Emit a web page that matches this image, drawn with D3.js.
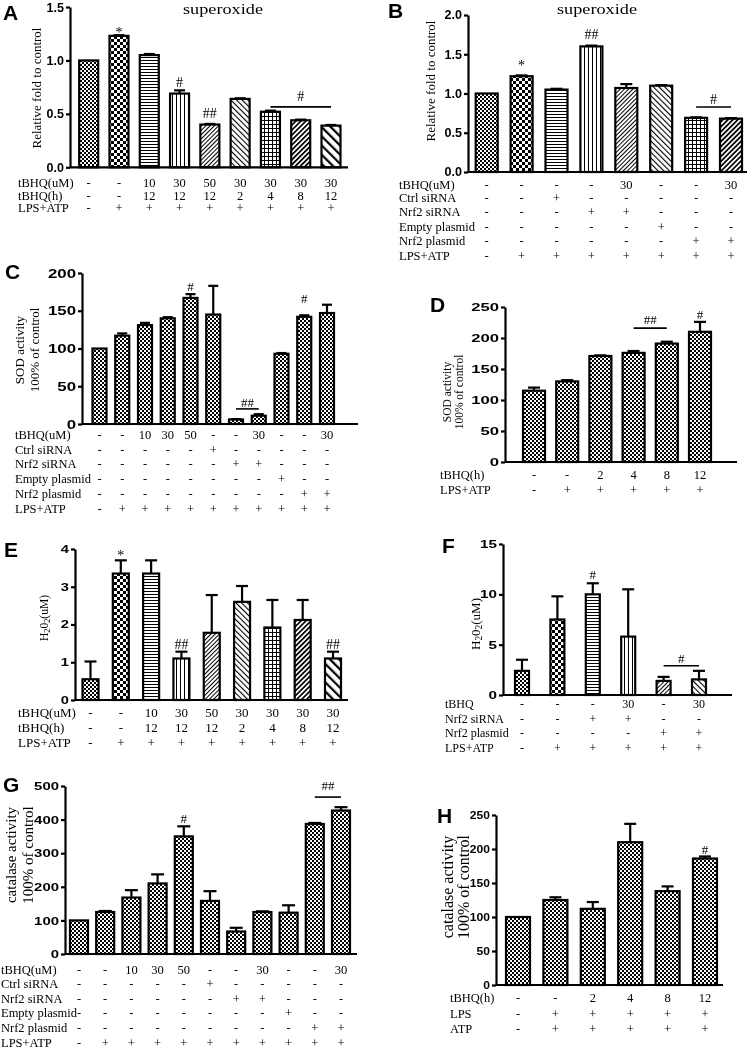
<!DOCTYPE html>
<html><head><meta charset="utf-8">
<script src="https://cdn.jsdelivr.net/npm/d3@7/dist/d3.min.js"></script>
<style>body{margin:0;background:#fff}svg{display:block;will-change:transform}</style>
</head><body>
<svg id="fig" width="750" height="1049"></svg>
<script>
// ---------------- DATA ----------------
// Panel A: superoxide, tBHQ dose/time
const aValues = [1.0, 1.23, 1.05, 0.69, 0.40, 0.64, 0.52, 0.44, 0.39];
const aErrors = [0, 0.006, 0.01, 0.03, 0.006, 0.006, 0.01, 0.006, 0.006];
const aTicks = [0, 0.5, 1.0, 1.5];
const aTbhqUM = ["-", "-", "10", "30", "50", "30", "30", "30", "30"];
const aTbhqH = ["-", "-", "12", "12", "12", "2", "4", "8", "12"];
const aLpsAtp = ["-", "+", "+", "+", "+", "+", "+", "+", "+"];
const aPatterns = ["dots", "checker", "hlines", "vlines", "fwd", "back", "grid", "fwdBold", "backWide"];
const aSig = [{from:1,to:1,text:"*",level:1.215},{from:3,to:3,text:"#",level:0.753},{from:4,to:4,text:"##",level:0.462},{from:6,to:8,text:"#",level:0.565}];

// Panel B: superoxide, Nrf2 manipulation
const bValues = [1.0, 1.22, 1.05, 1.60, 1.07, 1.10, 0.69, 0.68];
const bErrors = [0, 0.01, 0.01, 0.01, 0.05, 0.006, 0.006, 0.006];
const bTicks = [0, 0.5, 1.0, 1.5, 2.0];
const bTbhq = ["-", "-", "-", "-", "30", "-", "-", "30"];
const bCtrlSi = ["-", "-", "+", "-", "-", "-", "-", "-"];
const bNrf2Si = ["-", "-", "-", "+", "+", "-", "-", "-"];
const bEmptyPl = ["-", "-", "-", "-", "-", "+", "-", "-"];
const bNrf2Pl = ["-", "-", "-", "-", "-", "-", "+", "+"];
const bLpsAtp = ["-", "+", "+", "+", "+", "+", "+", "+"];
const bPatterns = ["dots", "checker", "hlines", "vlines", "fwd", "back", "grid", "fwdBold"];
const bSig = [{from:1,to:1,text:"*",level:1.30},{from:3,to:3,text:"##",level:1.694},{from:6,to:7,text:"#",level:0.828}];

// Panel C: SOD activity
const cValues = [100, 117, 131, 140, 167, 145, 6, 11, 93, 142, 147];
const cErrors = [0, 3, 3, 1.5, 5, 38, 0.5, 2, 1, 2, 11];
const cTicks = [0, 50, 100, 150, 200];
const cTbhq = ["-", "-", "10", "30", "50", "-", "-", "30", "-", "-", "30"];
const cCtrlSi = ["-", "-", "-", "-", "-", "+", "-", "-", "-", "-", "-"];
const cNrf2Si = ["-", "-", "-", "-", "-", "-", "+", "+", "-", "-", "-"];
const cEmptyPl = ["-", "-", "-", "-", "-", "-", "-", "-", "+", "-", "-"];
const cNrf2Pl = ["-", "-", "-", "-", "-", "-", "-", "-", "-", "+", "+"];
const cLpsAtp = ["-", "+", "+", "+", "+", "+", "+", "+", "+", "+", "+"];
const cSig = [{from:4,to:4,text:"#",level:176},{from:9,to:9,text:"#",level:160},{from:6,to:7,text:"##",level:20}];

// Panel D: SOD activity, time
const dValues = [115, 130, 171, 176, 191, 210];
const dErrors = [5, 2, 1, 3, 3, 16];
const dTicks = [0, 50, 100, 150, 200, 250];
const dTbhqH = ["-", "-", "2", "4", "8", "12"];
const dLpsAtp = ["-", "+", "+", "+", "+", "+"];
const dSig = [{from:5,to:5,text:"#",level:231},{from:3,to:4,text:"##",level:216}];

// Panel E: H2O2, tBHQ dose/time
const eValues = [0.55, 3.35, 3.35, 1.10, 1.78, 2.60, 1.92, 2.12, 1.10];
const eErrors = [0.47, 0.35, 0.35, 0.18, 1.0, 0.42, 0.73, 0.53, 0.18];
const eTicks = [0, 1, 2, 3, 4];
const eTbhqUM = ["-", "-", "10", "30", "50", "30", "30", "30", "30"];
const eTbhqH = ["-", "-", "12", "12", "12", "2", "4", "8", "12"];
const eLpsAtp = ["-", "+", "+", "+", "+", "+", "+", "+", "+"];
const eSig = [{from:1,to:1,text:"*",level:3.70},{from:3,to:3,text:"##",level:1.35},{from:8,to:8,text:"##",level:1.35}];

// Panel F: H2O2, Nrf2
const fValues = [2.4, 7.5, 10.0, 5.8, 1.4, 1.55];
const fErrors = [1.1, 2.3, 1.1, 4.7, 0.4, 0.85];
const fTicks = [0, 5, 10, 15];
const fTbhq = ["-", "-", "-", "30", "-", "30"];
const fNrf2Si = ["-", "-", "+", "+", "-", "-"];
const fNrf2Pl = ["-", "-", "-", "-", "+", "+"];
const fLpsAtp = ["-", "+", "+", "+", "+", "+"];
const fPatterns = ["dots", "checker", "hlines", "vlines", "fwd", "back"];
const fSig = [{from:2,to:2,text:"#",level:11.5},{from:4,to:5,text:"#",level:2.9}];

// Panel G: catalase activity
const gValues = [100, 125, 168, 210, 350, 158, 67, 125, 123, 387, 427];
const gErrors = [0, 3, 22, 27, 30, 29, 11, 2, 22, 3, 10];
const gTicks = [0, 100, 200, 300, 400, 500];
const gTbhq = ["-", "-", "10", "30", "50", "-", "-", "30", "-", "-", "30"];
const gCtrlSi = ["-", "-", "-", "-", "-", "+", "-", "-", "-", "-", "-"];
const gNrf2Si = ["-", "-", "-", "-", "-", "-", "+", "+", "-", "-", "-"];
const gEmptyPl = ["-", "-", "-", "-", "-", "-", "-", "-", "+", "-", "-"];
const gNrf2Pl = ["-", "-", "-", "-", "-", "-", "-", "-", "-", "+", "+"];
const gLpsAtp = ["-", "+", "+", "+", "+", "+", "+", "+", "+", "+", "+"];
const gSig = [{from:4,to:4,text:"#",level:390},{from:9,to:10,text:"##",level:467}];

// Panel H: catalase activity, time
const hValues = [100, 125, 112, 210, 138, 186];
const hErrors = [0, 4, 10, 27, 7, 3];
const hTicks = [0, 50, 100, 150, 200, 250];
const hTbhqH = ["-", "-", "2", "4", "8", "12"];
const hLps = ["-", "+", "+", "+", "+", "+"];
const hAtp = ["-", "+", "+", "+", "+", "+"];
const hSig = [{from:5,to:5,text:"#",level:193}];

// ---------------- DRAWING ----------------
const SERIF = "'Liberation Serif','Times New Roman',serif";
const SANS = "'Liberation Sans',Arial,sans-serif";
const svg = d3.select("#fig");
svg.append("rect").attr("width",750).attr("height",1049).attr("fill","#fff");
const defs = svg.append("defs");

function addPattern(id, w, rot, shapes) {
  const p = defs.append("pattern").attr("id", id).attr("patternUnits", "userSpaceOnUse")
    .attr("width", w).attr("height", w);
  if (rot) p.attr("patternTransform", `rotate(${rot})`);
  p.append("rect").attr("width", w).attr("height", w).attr("fill", "#fff");
  shapes.forEach(s => p.append("rect").attr("x", s[0]).attr("y", s[1]).attr("width", s[2]).attr("height", s[3]).attr("fill", "#000"));
}
addPattern("dots", 4, 0, [[0,0,2,2],[2,2,2,2]]);
addPattern("checker", 6, 0, [[0,0,3,3],[3,3,3,3]]);
addPattern("hlines", 3, 0, [[0,0,3,1]]);
addPattern("vlines", 4, 0, [[0,0,1,4]]);
addPattern("fwd", 3, 45, [[0,0,1,3]]);
addPattern("back", 4, -45, [[0,0,1.1,4]]);
addPattern("grid", 4, 0, [[0,0,4,1],[0,0,1,4]]);
addPattern("fwdBold", 3.5, 45, [[0,0,1.7,3.5]]);
addPattern("backWide", 6.5, -45, [[0,0,2.2,6.5]]);

function drawLabelText(sel, str) {
  // renders "₂" as a small lowered digit
  const parts = str.split(/(₂)/).filter(s => s.length);
  let lastSub = false;
  parts.forEach(p => {
    if (p === "₂") {
      sel.append("tspan").attr("font-size", "0.72em").attr("dy", 2).text("2");
      lastSub = true;
    } else {
      sel.append("tspan").attr("dy", lastSub ? -2 : 0).text(p);
      lastSub = false;
    }
  });
}

function drawPanel(p) {
  const L = p.L;
  const g = svg.append("g");
  const n = p.values.length;
  const x = d3.scalePoint().domain(d3.range(n)).range([L.c0, L.c1]);
  const y = d3.scaleLinear().domain([0, p.ticks[p.ticks.length - 1]]).range([L.yBot, L.yTop]);

  // bars
  g.selectAll("rect.bar").data(p.values).join("rect").attr("class", "bar")
    .attr("x", (d, i) => x(i) - L.barW / 2 + 1).attr("width", L.barW - 2)
    .attr("y", d => y(d)).attr("height", d => L.yBot - y(d))
    .attr("fill", (d, i) => `url(#${p.patterns ? p.patterns[i] : "dots"})`)
    .attr("stroke", "#000").attr("stroke-width", 2.2);

  // error bars
  const eb = p.values.map((v, i) => ({i, v, e: p.errors[i]})).filter(d => d.e > 0);
  g.selectAll("line.err").data(eb).join("line").attr("class", "err")
    .attr("x1", d => x(d.i)).attr("x2", d => x(d.i))
    .attr("y1", d => y(d.v)).attr("y2", d => y(d.v + d.e))
    .attr("stroke", "#000").attr("stroke-width", 2.2);
  g.selectAll("line.cap").data(eb).join("line").attr("class", "cap")
    .attr("x1", d => x(d.i) - L.capW / 2).attr("x2", d => x(d.i) + L.capW / 2)
    .attr("y1", d => y(d.v + d.e)).attr("y2", d => y(d.v + d.e))
    .attr("stroke", "#000").attr("stroke-width", 2.2);

  // y axis
  const ax = g.append("g").attr("transform", `translate(${L.x0},0)`)
    .call(d3.axisLeft(y).tickValues(p.ticks).tickSize(4).tickSizeOuter(0).tickPadding(2)
      .tickFormat(d3.format(L.fmt)));
  ax.select(".domain").attr("stroke", "#000").attr("stroke-width", 2.2);
  ax.selectAll(".tick line").attr("stroke", "#000").attr("stroke-width", 2.2);
  ax.selectAll(".tick text").attr("font-family", SANS).attr("font-weight", "bold")
    .attr("font-size", L.tickFont).attr("fill", "#000")
    .attr("x", -6 / L.sx).attr("transform", `scale(${L.sx},1)`);
  // x axis line
  g.append("line").attr("x1", L.x0).attr("x2", L.x1).attr("y1", L.yBot).attr("y2", L.yBot)
    .attr("stroke", "#000").attr("stroke-width", 2.2);

  // significance marks
  p.sig.forEach(s => {
    if (s.from === s.to) {
      g.append("text").attr("x", x(s.from)).attr("y", y(s.level)).attr("text-anchor", "middle")
        .attr("font-family", SERIF).attr("font-size", L.sigSize).text(s.text);
    } else {
      g.append("line").attr("x1", x(s.from)).attr("x2", x(s.to)).attr("y1", y(s.level)).attr("y2", y(s.level))
        .attr("stroke", "#000").attr("stroke-width", 1.6);
      g.append("text").attr("x", (x(s.from) + x(s.to)) / 2).attr("y", y(s.level) - L.sigGap)
        .attr("text-anchor", "middle").attr("font-family", SERIF).attr("font-size", L.sigSize).text(s.text);
    }
  });

  // condition rows
  p.rows.forEach((r, ri) => {
    g.append("text").attr("x", L.rowX).attr("y", L.rowY[ri]).attr("font-family", SERIF)
      .attr("font-size", L.rowSize).text(r[0]);
    g.selectAll(null).data(r[1]).join("text").attr("x", (d, i) => x(i)).attr("y", L.rowY[ri])
      .attr("text-anchor", "middle").attr("font-family", SERIF).attr("font-size", L.rowSize).text(d => d);
  });

  // y label
  p.ylab.forEach((t, k) => {
    const tx = g.append("text").attr("transform", `translate(${L.ylabX[k]},${L.ylabY}) rotate(-90)`)
      .attr("text-anchor", "middle").attr("font-family", SERIF).attr("font-size", L.ylabSize);
    drawLabelText(tx, t);
  });

  // panel letter
  g.append("text").attr("x", L.letterX).attr("y", L.letterY).attr("font-family", SANS)
    .attr("font-weight", "bold").attr("font-size", 21).text(p.letter);
  if (p.title) g.append("text").attr("x", L.titleX).attr("y", L.titleY).attr("text-anchor", "middle")
    .attr("font-family", SERIF).attr("font-size", 15).attr("textLength", 80)
    .attr("lengthAdjust", "spacingAndGlyphs").text(p.title);
}

drawPanel({letter:"A", title:"superoxide", values:aValues, errors:aErrors, ticks:aTicks, patterns:aPatterns, sig:aSig,
  ylab:["Relative fold to control"],
  rows:[["tBHQ(uM)", aTbhqUM], ["tBHQ(h)", aTbhqH], ["LPS+ATP", aLpsAtp]],
  L:{x0:70, x1:348, yTop:7, yBot:167.3, c0:88.7, c1:331, barW:21, capW:11, fmt:".1f", tickFont:12.5, sx:1,
     sigSize:14, sigGap:6, rowX:18, rowY:[187,199.5,212], rowSize:12.5, ylabX:[41], ylabY:88, ylabSize:13,
     letterX:3, letterY:20, titleX:223, titleY:14}});

drawPanel({letter:"B", title:"superoxide", values:bValues, errors:bErrors, ticks:bTicks, patterns:bPatterns, sig:bSig,
  ylab:["Relative fold to control"],
  rows:[["tBHQ(uM)", bTbhq], ["Ctrl siRNA", bCtrlSi], ["Nrf2 siRNA", bNrf2Si], ["Empty plasmid", bEmptyPl], ["Nrf2 plasmid", bNrf2Pl], ["LPS+ATP", bLpsAtp]],
  L:{x0:468, x1:747, yTop:15, yBot:172, c0:486.7, c1:731, barW:24, capW:12, fmt:".1f", tickFont:12, sx:1.05,
     sigSize:14, sigGap:3, rowX:399, rowY:[188.5,202,216,230.5,245,260], rowSize:12.5, ylabX:[435], ylabY:81, ylabSize:13,
     letterX:388, letterY:18, titleX:597, titleY:14}});

drawPanel({letter:"C", values:cValues, errors:cErrors, ticks:cTicks, sig:cSig,
  ylab:["SOD activity", "100% of control"],
  rows:[["tBHQ(uM)", cTbhq], ["Ctrl siRNA", cCtrlSi], ["Nrf2 siRNA", cNrf2Si], ["Empty plasmid", cEmptyPl], ["Nrf2 plasmid", cNrf2Pl], ["LPS+ATP", cLpsAtp]],
  L:{x0:82, x1:358, yTop:273, yBot:424, c0:99.5, c1:327, barW:16, capW:10, fmt:"d", tickFont:12.5, sx:1.35,
     sigSize:13, sigGap:2, rowX:15, rowY:[439,453.5,468,483,498,513], rowSize:12.5, ylabX:[24,39], ylabY:350, ylabSize:13,
     letterX:5, letterY:279}});

drawPanel({letter:"D", values:dValues, errors:dErrors, ticks:dTicks, sig:dSig,
  ylab:["SOD activity", "100% of control"],
  rows:[["tBHQ(h)", dTbhqH], ["LPS+ATP", dLpsAtp]],
  L:{x0:505, x1:737, yTop:307, yBot:462, c0:534, c1:700, barW:24, capW:12, fmt:"d", tickFont:11.5, sx:1.45,
     sigSize:13, sigGap:4, rowX:440, rowY:[479,494], rowSize:12.5, ylabX:[451,463], ylabY:392, ylabSize:11.5,
     letterX:430, letterY:312}});

drawPanel({letter:"E", values:eValues, errors:eErrors, ticks:eTicks, patterns:aPatterns, sig:eSig,
  ylab:["H₂0₂(uM)"],
  rows:[["tBHQ(uM)", eTbhqUM], ["tBHQ(h)", eTbhqH], ["LPS+ATP", eLpsAtp]],
  L:{x0:75, x1:348, yTop:549, yBot:700, c0:90.5, c1:333, barW:18, capW:12, fmt:"d", tickFont:10.5, sx:1.4,
     sigSize:14, sigGap:3, rowX:18, rowY:[717,732,747], rowSize:13, ylabX:[48], ylabY:618, ylabSize:11.5,
     letterX:4, letterY:557}});

drawPanel({letter:"F", values:fValues, errors:fErrors, ticks:fTicks, patterns:fPatterns, sig:fSig,
  ylab:["H₂0₂(uM)"],
  rows:[["tBHQ", fTbhq], ["Nrf2 siRNA", fNrf2Si], ["Nrf2 plasmid", fNrf2Pl], ["LPS+ATP", fLpsAtp]],
  L:{x0:503, x1:732, yTop:544, yBot:695, c0:522, c1:699, barW:16, capW:12, fmt:"d", tickFont:10.5, sx:1.45,
     sigSize:13, sigGap:3, rowX:445, rowY:[708,723,737,752], rowSize:12, ylabX:[480], ylabY:624, ylabSize:13,
     letterX:442, letterY:553}});

drawPanel({letter:"G", values:gValues, errors:gErrors, ticks:gTicks, sig:gSig,
  ylab:["catalase activity", "100% of control"],
  rows:[["tBHQ(uM)", gTbhq], ["Ctrl siRNA", gCtrlSi], ["Nrf2 siRNA", gNrf2Si], ["Empty plasmid", gEmptyPl], ["Nrf2 plasmid", gNrf2Pl], ["LPS+ATP", gLpsAtp]],
  L:{x0:65, x1:357, yTop:786, yBot:954, c0:79, c1:341, barW:20, capW:13, fmt:"d", tickFont:11.5, sx:1.3,
     sigSize:13, sigGap:7, rowX:1, rowY:[974,988,1003,1017,1032,1047], rowSize:12.5, ylabX:[16,33], ylabY:855, ylabSize:15,
     letterX:3, letterY:792}});

drawPanel({letter:"H", values:hValues, errors:hErrors, ticks:hTicks, sig:hSig,
  ylab:["catalase activity", "100% of control"],
  rows:[["tBHQ(h)", hTbhqH], ["LPS", hLps], ["ATP", hAtp]],
  L:{x0:496, x1:723, yTop:815, yBot:985, c0:518, c1:705, barW:26, capW:12, fmt:"d", tickFont:11, sx:1.1,
     sigSize:13, sigGap:4, rowX:450, rowY:[1002,1018,1033], rowSize:12.5, ylabX:[453,469], ylabY:887, ylabSize:16,
     letterX:437, letterY:823}});
</script>
</body></html>
